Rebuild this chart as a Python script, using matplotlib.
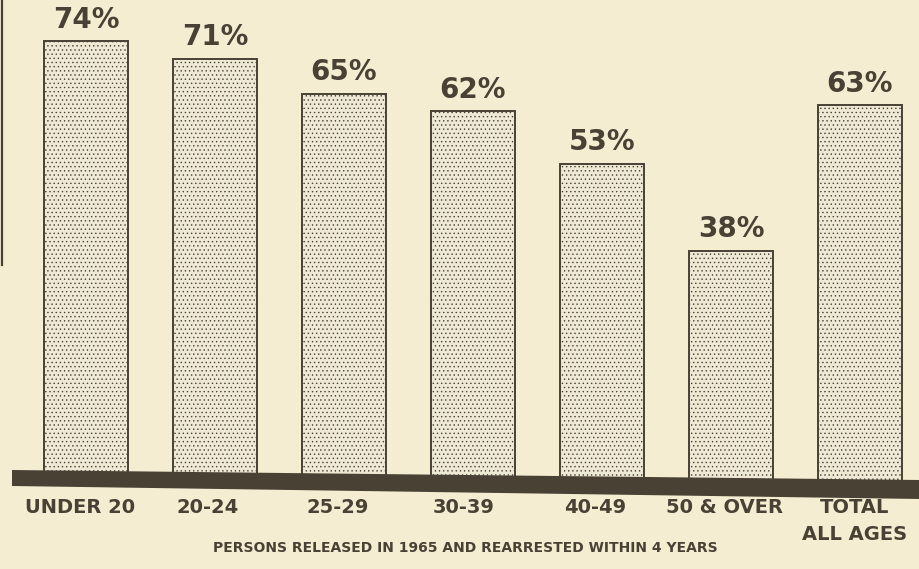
import matplotlib
matplotlib.use("Agg")
import matplotlib.pyplot as plt
from matplotlib.patches import Polygon
import numpy as np

categories = ["UNDER 20", "20-24", "25-29", "30-39", "40-49", "50 & OVER", "TOTAL\nALL AGES"]
values = [74, 71, 65, 62, 53, 38, 63]
value_labels = ["74%", "71%", "65%", "62%", "53%", "38%", "63%"]
caption = "PERSONS RELEASED IN 1965 AND REARRESTED WITHIN 4 YEARS"

bg = "#f4edd2"
ink = "#4a4135"
fill = "#eee9d5"

plt.rcParams["hatch.linewidth"] = 0.5
plt.rcParams["hatch.color"] = "#a39a88"
plt.rcParams["font.family"] = ["DejaVu Sans"]

fig = plt.figure(figsize=(9.2, 5.69), dpi=100, facecolor=bg)
ax = fig.add_axes([0, 0, 1, 1])
ax.set_facecolor(bg)

W, H = 920, 569
x0px, step = 86, 129
ppu = 5.82
ybase = 472
ax.set_xlim(-x0px / step, (W - x0px) / step)
ax.set_ylim(-(H - ybase) / ppu, ybase / ppu)
ax.axis("off")

def px2d(px, py):
    return ((px - x0px) / step, (ybase - py) / ppu)

x = np.arange(len(categories))
ax.bar(x, np.array(values) + 1.5, bottom=-1.5, width=0.65, color=fill,
       edgecolor=ink, linewidth=1.4, hatch="....", zorder=2)

for xi, v, lab in zip(x, values, value_labels):
    ax.text(xi, v + 1.3, lab, ha="center", va="bottom", fontsize=20,
            color=ink, fontweight="bold", zorder=4)

# slanted baseline band
pts = [px2d(12, 470), px2d(920, 480), px2d(920, 499), px2d(12, 486)]
ax.add_patch(Polygon(pts, closed=True, facecolor=ink, edgecolor="none", zorder=3))

# left edge line
a, b = px2d(2, 0), px2d(2, 265)
ax.plot([a[0], b[0]], [a[1], b[1]], color=ink, lw=1.6, zorder=3)

label_px = [80, 208, 338, 464, 595, 725, 855]
for lx, lab in zip(label_px, categories):
    xd, yd = px2d(lx, 498)
    ax.text(xd, yd, lab, ha="center", va="top", fontsize=14, color=ink,
            fontweight="bold", linespacing=1.55, zorder=4)

cx, cy = px2d(465, 548)
ax.text(cx, cy, caption, ha="center", va="center", fontsize=10, color=ink,
        fontweight="bold", zorder=4)

fig.savefig("out.png", dpi=100, facecolor=bg)
